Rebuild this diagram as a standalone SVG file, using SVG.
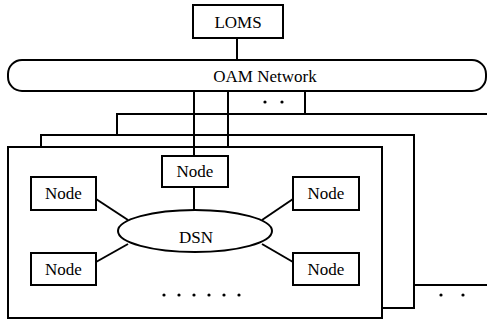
<svg xmlns="http://www.w3.org/2000/svg" width="487" height="320" viewBox="0 0 487 320">
<style>
.b{fill:#fff;stroke:#000;stroke-width:2}
.l{fill:none;stroke:#000;stroke-width:2}
text{font-family:"Liberation Serif","Times New Roman",serif;font-size:17px;fill:#000;text-anchor:middle}
.d{fill:#000}
</style>
<rect width="487" height="320" fill="#fff"/>
<g id="frame3">
<polyline class="l" points="117,135 117,114 490,114"/>
<polyline class="l" points="414,285 490,285"/>
<circle class="d" cx="441" cy="295" r="1.6"/><circle class="d" cx="463" cy="295" r="1.6"/>
</g>
<g id="frame2">
<polyline class="l" points="41,147 41,135 414,135 414,308 382,308"/>
</g>
<g id="frame1">
<rect class="b" x="8" y="147" width="374" height="171"/>
</g>
<g id="connectors">
<line class="l" x1="237" y1="38" x2="237" y2="60"/>
<line class="l" x1="194" y1="91" x2="194" y2="156"/>
<line class="l" x1="228" y1="91" x2="228" y2="147"/>
<line class="l" x1="305" y1="91" x2="305" y2="114"/>
<line class="l" x1="194" y1="187" x2="194" y2="210"/>
<line class="l" x1="96" y1="199" x2="128" y2="220"/>
<line class="l" x1="96" y1="262" x2="128" y2="244"/>
<line class="l" x1="293" y1="199" x2="262" y2="220"/>
<line class="l" x1="293" y1="262" x2="262" y2="244"/>
</g>
<g id="oam-dots">
<circle class="d" cx="265" cy="102" r="1.6"/><circle class="d" cx="282" cy="102" r="1.6"/>
</g>
<g id="loms"><rect class="b" x="193" y="5" width="90" height="33"/><text x="238" y="28">LOMS</text></g>
<g id="oam"><rect class="b" x="8" y="60" width="478" height="31" rx="14" ry="14"/><text x="265" y="82">OAM Network</text></g>
<g id="node-top"><rect class="b" x="162" y="156" width="66" height="31"/><text x="195" y="177">Node</text></g>
<g id="node-lt"><rect class="b" x="31" y="177" width="65" height="33"/><text x="63.5" y="199">Node</text></g>
<g id="node-rt"><rect class="b" x="293" y="177" width="66" height="33"/><text x="326" y="199">Node</text></g>
<g id="node-lb"><rect class="b" x="31" y="253" width="65" height="32"/><text x="63.5" y="275">Node</text></g>
<g id="node-rb"><rect class="b" x="293" y="253" width="66" height="32"/><text x="326" y="275">Node</text></g>
<g id="dsn"><ellipse class="b" cx="195" cy="231" rx="77" ry="21"/><text x="196" y="243">DSN</text></g>
<g id="dots">
<circle class="d" cx="164" cy="295" r="1.6"/><circle class="d" cx="179" cy="295" r="1.6"/><circle class="d" cx="194" cy="295" r="1.6"/><circle class="d" cx="209" cy="295" r="1.6"/><circle class="d" cx="224" cy="295" r="1.6"/><circle class="d" cx="239" cy="295" r="1.6"/>
</g>
</svg>
